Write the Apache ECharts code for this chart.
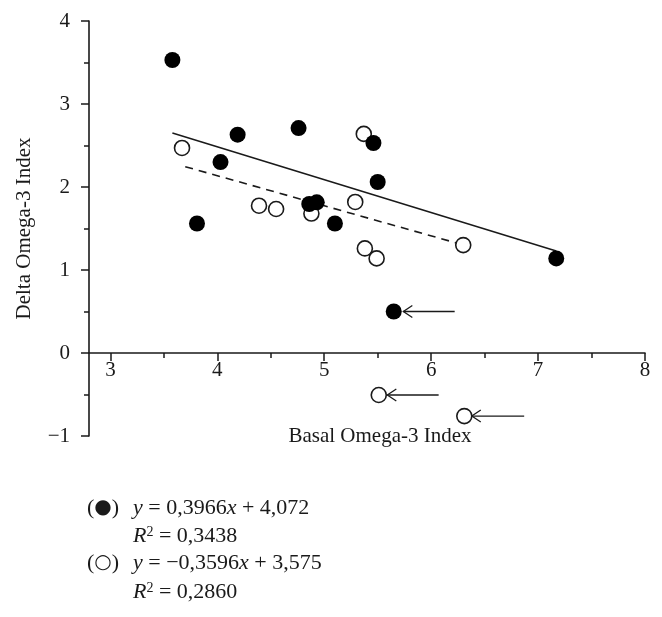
<!DOCTYPE html>
<html>
<head>
<meta charset="utf-8">
<title>Delta vs Basal Omega-3 Index</title>
<script src="https://cdn.jsdelivr.net/npm/echarts@6/dist/echarts.min.js"></script>
<style>
  html, body { margin: 0; padding: 0; background: #fff; }
  #chart { width: 662px; height: 617px; }
</style>
</head>
<body>
<div id="chart"></div>
<script>
// filled circles
const filledX = [3.58, 3.81, 4.03, 4.19, 4.76, 4.86, 4.93, 5.10, 5.46, 5.50, 5.65, 7.17];
const filledY = [3.53, 1.56, 2.30, 2.63, 2.71, 1.795, 1.815, 1.56, 2.53, 2.06, 0.50, 1.14];
// open circles
const openX = [3.67, 4.39, 4.55, 4.88, 5.29, 5.37, 5.38, 5.49, 5.51, 6.30, 6.31];
const openY = [2.47, 1.775, 1.735, 1.68, 1.82, 2.64, 1.26, 1.14, -0.506, 1.30, -0.76];
// regression line end points
const solidLine = [[3.58, 2.65], [7.17, 1.23]];
const dashedLine = [[3.70, 2.245], [6.28, 1.31]];
// arrows: tip x, tail x, y
const arrowTipX = [5.74, 5.59, 6.38];
const arrowTailX = [6.22, 6.07, 6.87];
const arrowY = [0.50, -0.506, -0.76];
// axis ticks
const xMajorTicks = [3, 4, 5, 6, 7, 8];
const xMinorTicks = [3.5, 4.5, 5.5, 6.5, 7.5];

const serif = '"Liberation Serif", "DejaVu Serif", serif';
const ink = '#1a1a1a';

const chart = echarts.init(document.getElementById('chart'));

// italic / superscript pieces for the fit equations
const eqRich = {
  i: { fontFamily: serif, fontSize: 22, fontStyle: 'italic', fill: ink },
  s: { fontFamily: serif, fontSize: 14, fill: ink, verticalAlign: 'top' },
  d: { fontFamily: '"DejaVu Sans", sans-serif', fontSize: 20, fill: ink }
};

function eqText(text, x, y) {
  return {
    type: 'text', x: x, y: y,
    style: { text: text, fontFamily: serif, fontSize: 22, fill: ink, verticalAlign: 'middle', rich: eqRich }
  };
}

const option = {
  animation: false,
  grid: { left: 89, right: 17, top: 21, bottom: 181 },
  xAxis: [
    {
      type: 'value',
      min: 2.8,
      max: 8,
      name: 'Basal Omega-3 Index',
      nameLocation: 'middle',
      // labels and name are laid out from the grid bottom, the line sits on y = 0
      nameGap: -10,
      nameTextStyle: { fontFamily: serif, fontSize: 21, color: ink, padding: [0, 0, 0, 26] },
      axisLine: { onZero: true, onZeroAxisIndex: 0, lineStyle: { color: ink, width: 1.6 } },
      axisTick: { length: 8, customValues: xMajorTicks, lineStyle: { color: ink, width: 1.5 } },
      axisLabel: { customValues: xMajorTicks, margin: -76, fontFamily: serif, fontSize: 21, color: ink },
      splitLine: { show: false }
    },
    {
      type: 'value',
      min: 2.8,
      max: 8,
      position: 'bottom',
      axisLine: { show: false, onZero: true, onZeroAxisIndex: 0 },
      axisTick: { length: 5, customValues: xMinorTicks, lineStyle: { color: ink, width: 1.5 } },
      axisLabel: { show: false },
      splitLine: { show: false }
    }
  ],
  yAxis: {
    type: 'value',
    min: -1,
    max: 4,
    interval: 1,
    name: 'Delta Omega-3 Index',
    nameLocation: 'middle',
    nameGap: 54,
    nameTextStyle: { fontFamily: serif, fontSize: 21, color: ink },
    axisLine: { show: true, onZero: false, lineStyle: { color: ink, width: 1.6 } },
    axisTick: { length: 8, lineStyle: { color: ink, width: 1.5 } },
    minorTick: { show: true, splitNumber: 2, length: 5, lineStyle: { color: ink, width: 1.5 } },
    axisLabel: {
      margin: 19,
      fontFamily: serif,
      fontSize: 21,
      color: ink,
      formatter: v => (v < 0 ? '\u2212' + (-v) : String(v))
    },
    splitLine: { show: false }
  },
  series: [
    {
      type: 'line',
      data: solidLine,
      symbol: 'none',
      lineStyle: { color: ink, width: 1.6 },
      z: 1
    },
    {
      type: 'line',
      data: dashedLine,
      symbol: 'none',
      lineStyle: { color: ink, width: 1.6, type: [8, 6] },
      z: 1
    },
    {
      type: 'custom',
      data: arrowTipX.map((x, i) => [x, arrowTailX[i], arrowY[i]]),
      encode: { x: [0, 1], y: 2 },
      renderItem: function (params, api) {
        const tip = api.coord([api.value(0), api.value(2)]);
        const tail = api.coord([api.value(1), api.value(2)]);
        const st = { stroke: ink, lineWidth: 1.3, fill: null };
        return {
          type: 'group',
          children: [
            { type: 'polyline', shape: { points: [tip, tail] }, style: st },
            {
              type: 'polyline',
              shape: { points: [[tip[0] + 9, tip[1] - 6], tip, [tip[0] + 9, tip[1] + 6]] },
              style: st
            }
          ]
        };
      },
      z: 2
    },
    {
      type: 'scatter',
      data: openX.map((x, i) => [x, openY[i]]),
      symbol: 'circle',
      symbolSize: 15,
      itemStyle: { color: '#fff', borderColor: ink, borderWidth: 1.6, opacity: 1 },
      z: 3
    },
    {
      type: 'scatter',
      data: filledX.map((x, i) => [x, filledY[i]]),
      symbol: 'circle',
      symbolSize: 16,
      itemStyle: { color: '#000', opacity: 1 },
      z: 4
    }
  ],
  graphic: [
    eqText('({d|\u25CF})', 87, 508),
    eqText('({d|\u25CB})', 87, 563),
    eqText('{i|y} = 0,3966{i|x} + 4,072', 133, 508),
    eqText('{i|R}{s|2} = 0,3438', 133, 536),
    eqText('{i|y} = \u22120,3596{i|x} + 3,575', 133, 563),
    eqText('{i|R}{s|2} = 0,2860', 133, 592)
  ]
};

chart.setOption(option);
</script>
</body>
</html>
